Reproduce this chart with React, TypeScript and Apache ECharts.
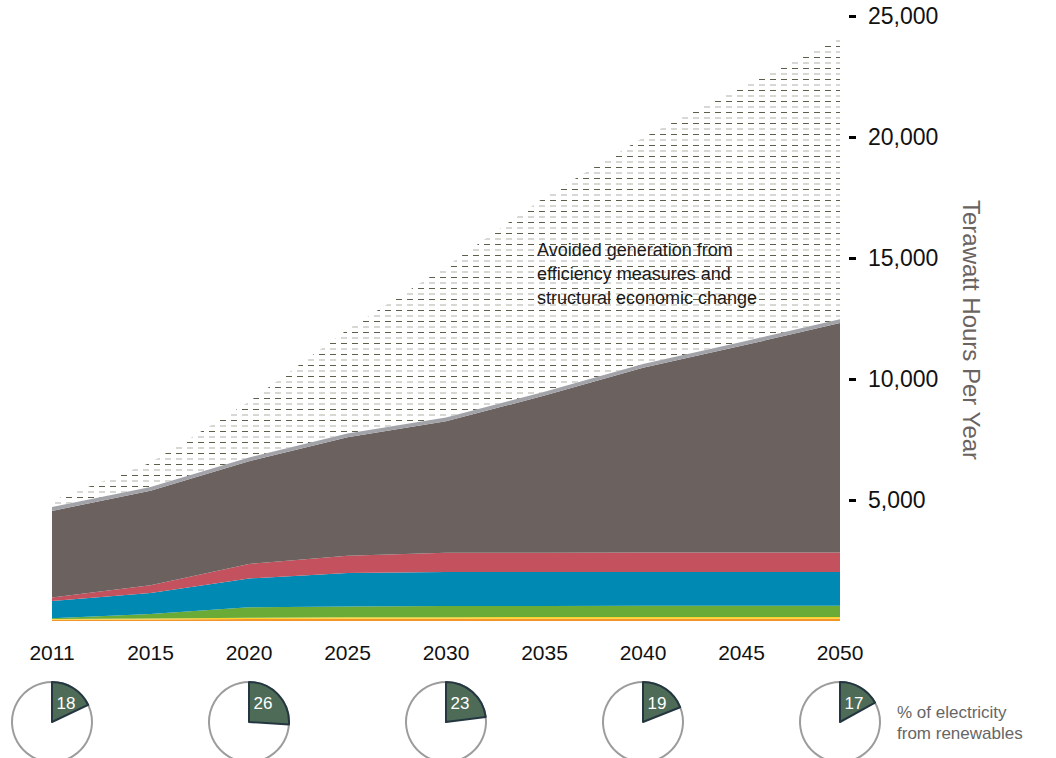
import React, { useEffect, useRef } from "react";
import * as echarts from "echarts";

const years = ["2011", "2015", "2020", "2025", "2030", "2035", "2040", "2045", "2050"];
const orange = [50, 60, 80, 90, 90, 95, 95, 95, 95];
const yellow = [30, 40, 50, 60, 65, 70, 70, 70, 70];
const green = [30, 190, 440, 450, 460, 460, 465, 465, 465];
const blue = [720, 870, 1190, 1380, 1405, 1395, 1390, 1390, 1390];
const red = [140, 320, 600, 720, 800, 805, 810, 810, 810];
const darkGray = [3580, 3900, 4240, 4890, 5430, 6490, 7630, 8540, 9480];
const lightGray = [160, 160, 160, 160, 160, 160, 160, 160, 160];
const avoided = [250, 1000, 2300, 4300, 6230, 8040, 9350, 10540, 11640];

const yTicks = [5000, 10000, 15000, 20000, 25000];
const pieYears = ["2011", "2020", "2030", "2040", "2050"];
const renewablePct = [18, 26, 23, 19, 17];

const FONT = "'Liberation Sans', Arial, sans-serif";

const hatchSvg =
  "<svg xmlns='http://www.w3.org/2000/svg' width='11' height='11'>" +
  "<rect x='0' y='2' width='6' height='1' fill='#5e5e4a'/>" +
  "<rect x='0' y='7.5' width='6' height='1' fill='#b0b0a8'/>" +
  "</svg>";
const hatchUrl = "data:image/svg+xml;charset=utf-8," + encodeURIComponent(hatchSvg);

function layer(name: string, data: number[], color: any) {
  return {
    name,
    type: "line",
    stack: "total",
    data,
    symbol: "none",
    showSymbol: false,
    smooth: false,
    lineStyle: { width: 0 },
    areaStyle: { color, opacity: 1 },
    silent: true,
    z: 2,
  };
}

export default function App() {
  const ref = useRef<HTMLDivElement>(null);
  useEffect(() => {
    if (!ref.current) return;
    const chart = echarts.init(ref.current, null, { renderer: "svg" });
    const mainSeries: any[] = [
      layer("Orange", orange, "#f3962a"),
      layer("Yellow", yellow, "#fcd22c"),
      layer("Green", green, "#6aaa36"),
      layer("Blue", blue, "#0089b3"),
      layer("Red", red, "#c4525e"),
      layer("Dark", darkGray, "#6b615e"),
      layer("Light", lightGray, "#a2a3a9"),
      layer("Avoided", avoided, {
        image: hatchUrl,
        repeat: "repeat",
        imageWidth: 11,
        imageHeight: 11,
      }),
    ];
    const base: any = {
      animation: false,
      textStyle: { fontFamily: FONT },
      grid: { left: 52, right: 216, top: 16, bottom: 137, containLabel: false },
      xAxis: {
        type: "category",
        data: years,
        boundaryGap: false,
        axisLine: { show: false },
        axisTick: { show: false },
        axisLabel: { fontSize: 21, color: "#111", margin: 21, fontFamily: FONT },
        splitLine: { show: false },
      },
      yAxis: {
        type: "value",
        position: "right",
        min: 0,
        max: 25000,
        interval: 5000,
        offset: 9,
        axisLine: { show: false },
        splitLine: { show: false },
        axisTick: {
          show: true,
          inside: false,
          length: 7,
          lineStyle: { color: "#000", width: 3 },
          customValues: yTicks,
        },
        axisLabel: {
          fontSize: 23,
          color: "#111",
          margin: 19,
          fontFamily: FONT,
          customValues: yTicks,
          formatter: (v: number) => v.toLocaleString("en-US"),
        },
      },
      series: mainSeries,
    };
    chart.setOption(base);

    const pieSeries: any[] = [];
    const graphics: any[] = [];
    pieYears.forEach((yr, i) => {
      const cx = chart.convertToPixel({ xAxisIndex: 0 }, yr) as number;
      const cy = 722;
      const pct = renewablePct[i];
      pieSeries.push({
        type: "pie",
        center: [cx, cy],
        radius: 40,
        silent: true,
        label: { show: false },
        labelLine: { show: false },
        data: [{ value: 100, itemStyle: { color: "#fff", borderColor: "#9c9c9c", borderWidth: 2 } }],
        z: 3,
      });
      pieSeries.push({
        type: "pie",
        center: [cx, cy],
        radius: 40,
        startAngle: 90,
        clockwise: true,
        silent: true,
        label: { show: false },
        labelLine: { show: false },
        data: [
          { value: pct, itemStyle: { color: "#4e6b57", borderColor: "#243640", borderWidth: 2 } },
          { value: 100 - pct, itemStyle: { color: "rgba(0,0,0,0)", borderWidth: 0 } },
        ],
        z: 4,
      });
      graphics.push({
        type: "text",
        x: cx + 14,
        y: cy - 19,
        z: 10,
        style: {
          text: String(pct),
          fill: "#fff",
          fontSize: 17,
          fontFamily: FONT,
          textAlign: "center",
          textVerticalAlign: "middle",
        },
      });
    });

    graphics.push({
      type: "text",
      x: 537,
      y: 238,
      z: 10,
      style: {
        text: "Avoided generation from\nefficiency measures and\nstructural economic change",
        fill: "#1a1a1a",
        fontSize: 18,
        lineHeight: 24,
        fontFamily: FONT,
        textAlign: "left",
        textVerticalAlign: "top",
      },
    });
    graphics.push({
      type: "text",
      x: 971,
      y: 330,
      rotation: -Math.PI / 2,
      z: 10,
      style: {
        text: "Terawatt Hours Per Year",
        fill: "#6b6360",
        fontSize: 24,
        fontFamily: FONT,
        textAlign: "center",
        textVerticalAlign: "middle",
      },
    });
    graphics.push({
      type: "text",
      x: 897,
      y: 702,
      z: 10,
      style: {
        text: "% of electricity\nfrom renewables",
        fill: "#666",
        fontSize: 17,
        lineHeight: 21,
        fontFamily: FONT,
        textAlign: "left",
        textVerticalAlign: "top",
      },
    });

    chart.setOption({ ...base, series: [...mainSeries, ...pieSeries], graphic: graphics }, true);

    return () => chart.dispose();
  }, []);
  return (
    <div
      ref={ref}
      style={{ position: "fixed", left: 0, top: 0, width: 1056, height: 758, background: "#fff" }}
    />
  );
}
